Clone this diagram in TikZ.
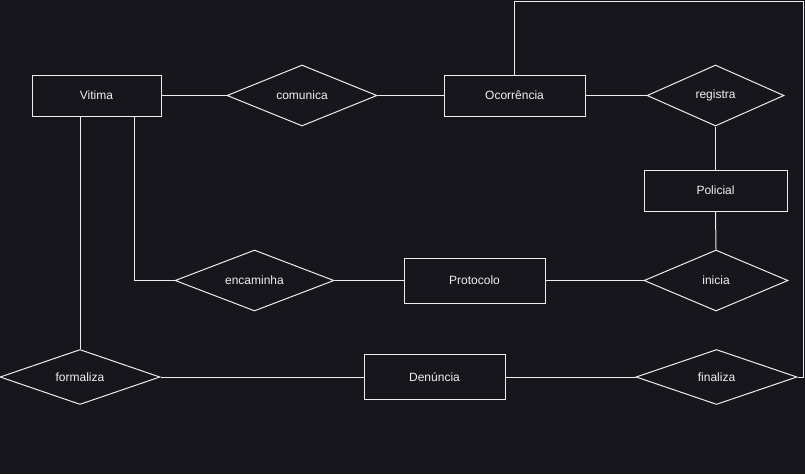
\documentclass[tikz,border=0pt]{standalone}
\usepackage{fontspec}
\setmainfont{Liberation Sans}
\usetikzlibrary{shapes.geometric}
\definecolor{bg}{HTML}{18161D}
\definecolor{ln}{HTML}{EDEDED}
\definecolor{tx}{HTML}{F0F0F0}
\begin{document}
\begin{tikzpicture}[x=1pt,y=-1pt,
  ent/.style={draw=ln,line width=1pt,rectangle,minimum width=#1,inner sep=0pt,text=tx,font=\fontsize{12pt}{14pt}\selectfont},
  rel/.style={draw=ln,line width=1pt,diamond,aspect=2.5,inner sep=0pt,text=tx,font=\fontsize{12pt}{14pt}\selectfont},
  conn/.style={draw=ln,line width=1pt}]
\fill[bg] (0,0) rectangle (805,474);
\useasboundingbox (0,0) rectangle (805,474);
% entities
\node[ent=129pt,minimum height=41pt] (vit) at (96.5,95.5) {Vitima};
\node[ent=141pt,minimum height=41pt] (oco) at (514.5,95.5) {Ocorrência};
\node[ent=143pt,minimum height=41pt] (pol) at (715.5,190.5) {Policial};
\node[ent=141pt,minimum height=45pt] (pro) at (474.5,280.5) {Protocolo};
\node[ent=141pt,minimum height=45pt] (den) at (434.5,377) {Denúncia};
% relationships
\node[rel,minimum width=150pt,minimum height=61pt] (com) at (302,95.5) {comunica};
\node[rel,minimum width=137pt,minimum height=61pt] (reg) at (715.5,95.5) {registra};
\node[rel,minimum width=144pt,minimum height=61pt] (ini) at (716,280.5) {inicia};
\node[rel,minimum width=159pt,minimum height=61pt] (enc) at (254.5,280.5) {encaminha};
\node[rel,minimum width=160pt,minimum height=55pt] (for) at (80,377) {formaliza};
\node[rel,minimum width=161pt,minimum height=55pt] (fin) at (716.5,377) {finaliza};
% corner coordinates
\coordinate (c1) at (514,1);
\coordinate (c2) at (803,1);
\coordinate (c3) at (803,377);
\coordinate (c4) at (134,280.5);
% connectors
\draw[conn] (vit.east) -- (com.west);
\draw[conn] (com.east) -- (oco.west);
\draw[conn] (oco.east) -- (reg.west);
\draw[conn] (reg.south) -- (pol.north);
\draw[conn] (pol.south) -- (ini.north);
\draw[conn] (ini.west) -- (pro.east);
\draw[conn] (pro.west) -- (enc.east);
\draw[conn] (vit.south -| c4) -- (c4) -- (enc.west);
\draw[conn] (vit.south -| for.north) -- (for.north);
\draw[conn] (for.east) -- (den.west);
\draw[conn] (den.east) -- (fin.west);
\draw[conn] (oco.north -| c1) -- (c1) -- (c2) -- (c3) -- (fin.east);
\end{tikzpicture}
\end{document}
